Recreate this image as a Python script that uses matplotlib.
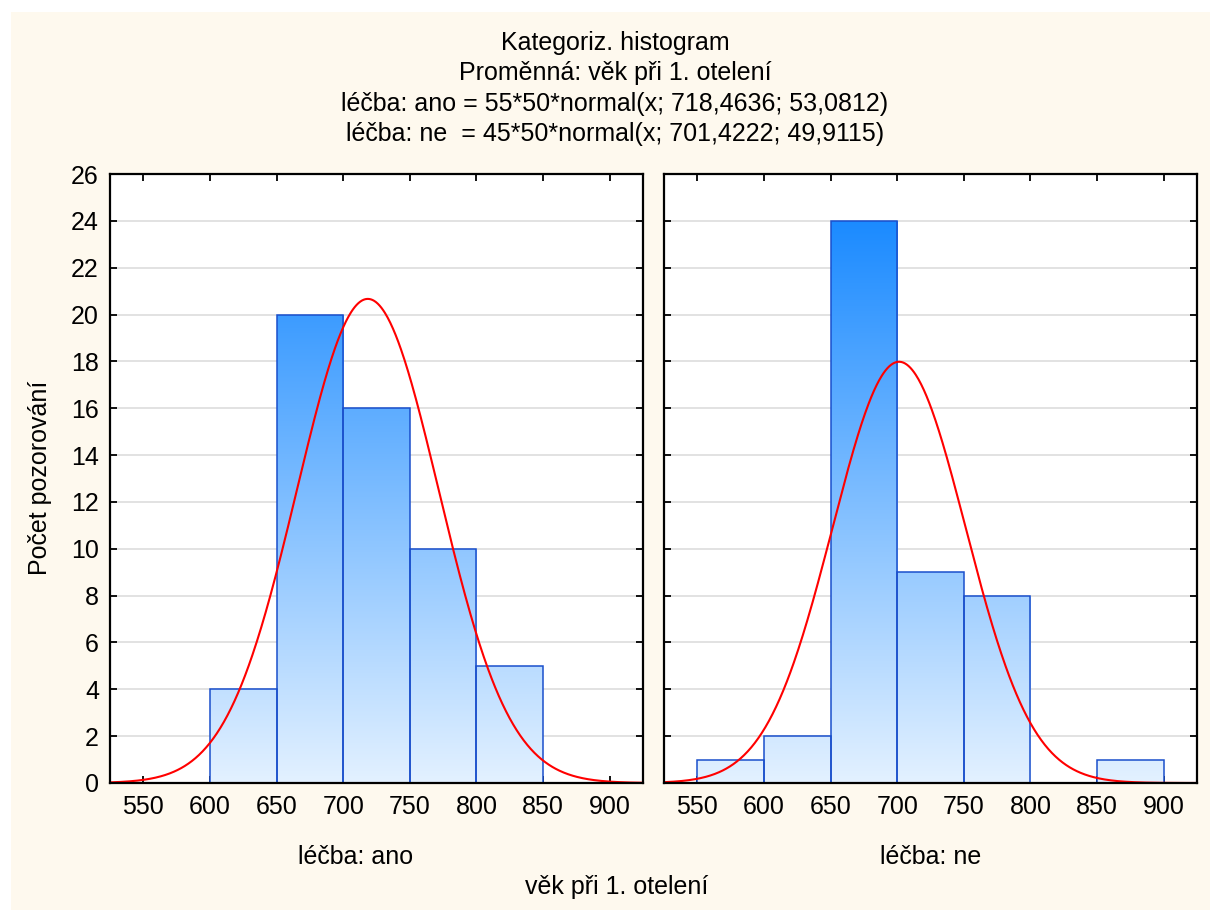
import numpy as np
import matplotlib
matplotlib.use('Agg')
from matplotlib import pyplot as plt
from matplotlib.colors import LinearSegmentedColormap
from matplotlib.patches import Rectangle

plt.rcParams['font.family'] = ['Liberation Sans', 'DejaVu Sans']

# histogram data (bin edges of width 50)
ano_bins = [600, 650, 700, 750, 800]
ano_counts = [4, 20, 16, 10, 5]
ne_bins = [550, 600, 650, 700, 750, 800, 850]
ne_counts = [1, 2, 24, 9, 8, 0, 1]
bin_width = 50

# fitted normal curves from the title
ano_n, ano_mean, ano_sd = 55, 718.4636, 53.0812
ne_n, ne_mean, ne_sd = 45, 701.4222, 49.9115

x_ticks = [550, 600, 650, 700, 750, 800, 850, 900]
y_ticks = list(range(0, 27, 2))

title_lines = [
    "Kategoriz. histogram",
    "Proměnná: věk při 1. otelení",
    "léčba: ano = 55*50*normal(x; 718,4636; 53,0812)",
    "léčba: ne  = 45*50*normal(x; 701,4222; 49,9115)",
]

FS = 18
W, H = 1210, 910
fig = plt.figure(figsize=(W / 100, H / 100), dpi=100, facecolor='white')
fig.patches.append(Rectangle((11 / W, 0), 1, 1 - 12 / H, transform=fig.transFigure,
                             facecolor='#fef9ee', edgecolor='none', zorder=-10))

cmap = LinearSegmentedColormap.from_list('blu', [(0.89, 0.945, 1.0), (0.04, 0.51, 1.0)])
grad = np.linspace(0, 1, 256).reshape(-1, 1)

ax_l = fig.add_axes([110 / W, 127 / H, 533 / W, 609 / H])
ax_r = fig.add_axes([664 / W, 127 / H, 533 / W, 609 / H])


def draw_panel(ax, bins, counts, n, mean, sd):
    ax.set_facecolor('white')
    ax.set_xlim(525, 925)
    ax.set_ylim(0, 26)
    for b, c in zip(bins, counts):
        if c == 0:
            continue
        rect = Rectangle((b, 0), bin_width, c, facecolor='none', edgecolor='#1a4fcc',
                         linewidth=1.1, zorder=3)
        ax.add_patch(rect)
        im = ax.imshow(grad, cmap=cmap, origin='lower', aspect='auto',
                       extent=[b, b + bin_width, 0, 26], zorder=2)
        im.set_clip_path(rect)
    xs = np.linspace(525, 925, 600)
    ys = n * bin_width * np.exp(-0.5 * ((xs - mean) / sd) ** 2) / (sd * np.sqrt(2 * np.pi))
    ax.plot(xs, ys, color='#ff0000', linewidth=1.5, zorder=4)
    ax.set_xticks(x_ticks)
    ax.set_yticks(y_ticks)
    ax.yaxis.grid(True, color='#dddddd', linewidth=1.2, zorder=0)
    ax.set_axisbelow(True)
    ax.tick_params(direction='in', length=5, width=1.3, top=True, right=True,
                   labelsize=FS, pad=9, colors='black')
    for s in ax.spines.values():
        s.set_linewidth(1.6)
        s.set_zorder(5)


draw_panel(ax_l, ano_bins, ano_counts, ano_n, ano_mean, ano_sd)
draw_panel(ax_r, ne_bins, ne_counts, ne_n, ne_mean, ne_sd)
ax_r.tick_params(labelleft=False)
ax_l.tick_params(axis='y', pad=8)

for i, line in enumerate(title_lines):
    fig.text(615 / W, 1 - (43 + 30.3 * i) / H, line, ha='center', va='center', fontsize=FS)

fig.text(356 / W, 1 - 857 / H, "léčba: ano", ha='center', va='center', fontsize=FS)
fig.text(931 / W, 1 - 857 / H, "léčba: ne", ha='center', va='center', fontsize=FS)
fig.text(617 / W, 1 - 887 / H, "věk při 1. otelení", ha='center', va='center', fontsize=FS)
fig.text(40 / W, 1 - 478 / H, "Počet pozorování", ha='center', va='center',
         rotation=90, fontsize=FS)

fig.savefig('out.png', dpi=100, facecolor=fig.get_facecolor())
